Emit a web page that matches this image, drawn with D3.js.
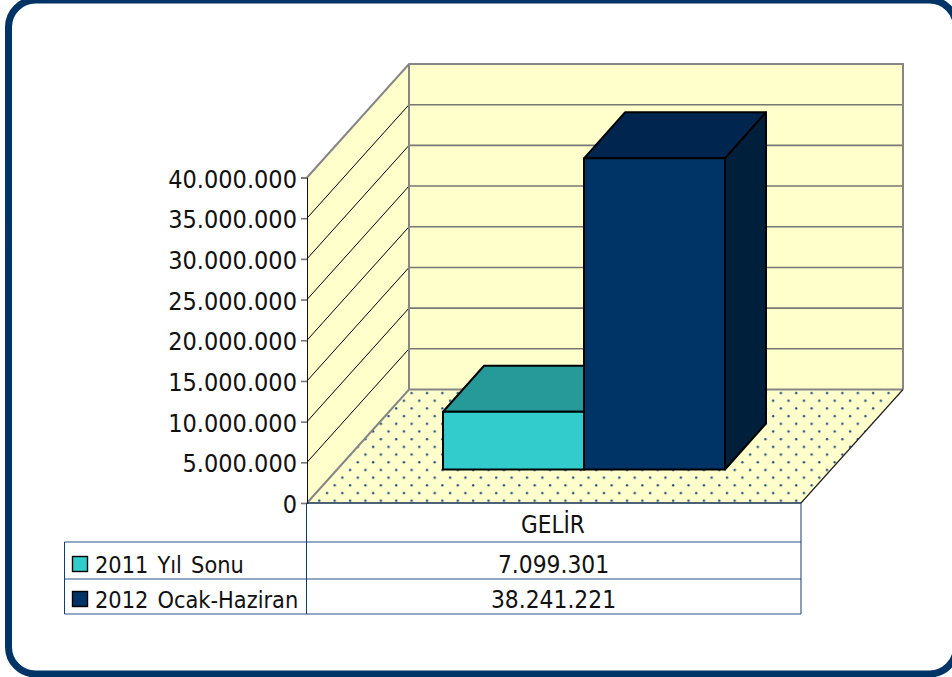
<!DOCTYPE html>
<html>
<head>
<meta charset="utf-8">
<script src="https://d3js.org/d3.v7.min.js"></script>
<style>
html,body{margin:0;padding:0;background:#fff;overflow:hidden}
text{font-family:"DejaVu Sans Condensed","DejaVu Sans",sans-serif;font-stretch:condensed;fill:#111}
</style>
</head>
<body>
<svg id="container" width="952" height="677"></svg>
<script>
// chart data
var categories = ["GELİR"]
var seriesNames = ["2011 Yıl Sonu", "2012 Ocak-Haziran"]
var seriesValues = [7099301, 38241221]
var frontColors = ["#33CCCC", "#003366"]
var topColors = ["#269999", "#002650"]
var sideColors = ["#1F7F7F", "#001F3A"]
var tickValues = [0, 5000000, 10000000, 15000000, 20000000, 25000000, 30000000, 35000000, 40000000]

var svg = d3.select("#container")
var fmt = d3.formatLocale({decimal: ",", thousands: ".", grouping: [3], currency: ["", ""]}).format(",d")

// page frame
svg.append("rect").attr("x", 8.5).attr("y", 0).attr("width", 948).attr("height", 674)
	.attr("rx", 27).attr("ry", 27).attr("fill", "#fff").attr("stroke", "#003366").attr("stroke-width", 7)

var x0 = 307, x1 = 801, yBase = 503, yTop = 177.5
var wallDx = 102, wallDy = -113.5 // depth of the whole 3d box
var barOffX = 30, barOffY = -33.5 // bar front plane sits inside the box
var barDx = 41, barDy = -46 // bar depth

var y = d3.scaleLinear().domain([0, 40000000]).range([yBase, yTop])
var x = d3.scaleBand().domain(seriesNames).range([x0, x1]).paddingInner(0).paddingOuter(0.752)

function poly(pts) { return pts.map(function(p){ return p.join(",") }).join(" ") }

// dotted floor
var defs = svg.append("defs")
var dotStep = 15.385
var pat = defs.append("pattern").attr("id", "floorDots").attr("patternUnits", "userSpaceOnUse")
	.attr("width", dotStep).attr("height", dotStep).attr("x", 7.6).attr("y", 12)
pat.append("rect").attr("width", dotStep).attr("height", dotStep).attr("fill", "#FFFFCC")
pat.append("circle").attr("cx", 4).attr("cy", 11.7).attr("r", 1.2).attr("fill", "#1F4F80")
pat.append("circle").attr("cx", 11.7).attr("cy", 4).attr("r", 1.2).attr("fill", "#1F4F80")

svg.append("polygon")
	.attr("points", poly([[x0, yBase], [x0 + wallDx, yBase + wallDy], [x1 + wallDx, yBase + wallDy], [x1, yBase]]))
	.attr("fill", "url(#floorDots)")

// back wall + side wall
svg.append("rect").attr("x", x0 + wallDx).attr("y", yTop + wallDy).attr("width", x1 - x0)
	.attr("height", yBase - yTop).attr("fill", "#FFFFCC")
svg.append("polygon")
	.attr("points", poly([[x0, yBase], [x0, yTop], [x0 + wallDx, yTop + wallDy], [x0 + wallDx, yBase + wallDy]]))
	.attr("fill", "#FFFFCC")

// gridlines
svg.selectAll("line.side").data(tickValues.slice(1, -1)).enter().append("line").attr("class", "side")
	.attr("x1", x0).attr("y1", function(d){ return y(d) })
	.attr("x2", x0 + wallDx).attr("y2", function(d){ return y(d) + wallDy })
	.attr("stroke", "#000").attr("stroke-width", 1)
svg.selectAll("line.back").data(tickValues.slice(1, -1)).enter().append("line").attr("class", "back")
	.attr("x1", x0 + wallDx).attr("y1", function(d){ return y(d) + wallDy })
	.attr("x2", x1 + wallDx).attr("y2", function(d){ return y(d) + wallDy })
	.attr("stroke", "#777").attr("stroke-width", 1.6)

// box outline
svg.append("polyline").attr("fill", "none").attr("stroke", "#868686").attr("stroke-width", 2)
	.attr("points", poly([[x0, yTop], [x0 + wallDx, yTop + wallDy], [x1 + wallDx, yTop + wallDy], [x1 + wallDx, yBase + wallDy]]))
svg.append("line").attr("x1", x0 + wallDx).attr("y1", yTop + wallDy).attr("x2", x0 + wallDx).attr("y2", yBase + wallDy)
	.attr("stroke", "#868686").attr("stroke-width", 2)
svg.append("polyline").attr("fill", "none").attr("stroke", "#868686").attr("stroke-width", 2)
	.attr("points", poly([[x0, yBase], [x0 + wallDx, yBase + wallDy], [x1 + wallDx, yBase + wallDy]]))
svg.append("line").attr("x1", x1).attr("y1", yBase).attr("x2", x1 + wallDx).attr("y2", yBase + wallDy)
	.attr("stroke", "#222").attr("stroke-width", 1.2)

// bars, drawn left to right so the tall one covers the short one
seriesNames.forEach(function(name, i){
	var xa = x(name) + barOffX, xb = xa + x.bandwidth()
	var yb = yBase + barOffY, yt = y(seriesValues[i]) + barOffY
	var g = svg.append("g").attr("stroke", "#000").attr("stroke-width", 2).attr("stroke-linejoin", "round")
	g.append("polygon").attr("fill", topColors[i])
		.attr("points", poly([[xa, yt], [xa + barDx, yt + barDy], [xb + barDx, yt + barDy], [xb, yt]]))
	g.append("polygon").attr("fill", sideColors[i])
		.attr("points", poly([[xb, yt], [xb + barDx, yt + barDy], [xb + barDx, yb + barDy], [xb, yb]]))
	g.append("rect").attr("x", xa).attr("y", yt).attr("width", xb - xa).attr("height", yb - yt)
		.attr("fill", frontColors[i])
})

// y axis
var axis = svg.append("g").attr("transform", "translate(" + x0 + ",0)")
	.call(d3.axisLeft(y).tickValues(tickValues).tickFormat(fmt).tickSize(6).tickPadding(4))
axis.select(".domain").attr("stroke", "#111").attr("stroke-width", 1)
axis.selectAll(".tick line").attr("stroke", "#777").attr("stroke-width", 1.6)
axis.attr("font-family", null)
axis.selectAll(".tick text").style("font-size", "25px").attr("fill", "#111").attr("y", 1.5)

// data table
var tableLeft = 64.5, rowLines = [542, 579, 614]
rowLines.forEach(function(ly){
	svg.append("line").attr("x1", tableLeft).attr("x2", x1).attr("y1", ly).attr("y2", ly)
		.attr("stroke", "#6F8BAE").attr("stroke-width", 1.6)
})
svg.append("line").attr("x1", x0 - 0.5).attr("x2", x0 - 0.5).attr("y1", yBase).attr("y2", 614).attr("stroke", "#0F3F72").attr("stroke-width", 1)
svg.append("line").attr("x1", x1).attr("x2", x1).attr("y1", yBase).attr("y2", 614).attr("stroke", "#0F3F72").attr("stroke-width", 1)
svg.append("line").attr("x1", tableLeft).attr("x2", tableLeft).attr("y1", 542).attr("y2", 614).attr("stroke", "#0F3F72").attr("stroke-width", 1)
svg.append("line").attr("x1", x0).attr("x2", x1).attr("y1", yBase).attr("y2", yBase).attr("stroke", "#0F3050").attr("stroke-width", 1.6)

svg.append("text").text(categories[0]).attr("x", 553).attr("y", 533)
	.attr("text-anchor", "middle").style("font-size", "24px")

var rowText = [573, 608]
seriesNames.forEach(function(name, i){
	svg.append("rect").attr("x", 72.5).attr("y", rowText[i] - 16.5).attr("width", 15).attr("height", 15)
		.attr("fill", frontColors[i]).attr("stroke", "#000").attr("stroke-width", 1.4)
	svg.append("text").text(name).attr("x", 95).attr("y", rowText[i]).style("font-size", "23.3px").style("word-spacing", "2.5px")
	svg.append("text").text(fmt(seriesValues[i])).attr("x", 553.5).attr("y", rowText[i])
		.attr("text-anchor", "middle").style("font-size", "24.3px")
})
</script>
</body>
</html>
